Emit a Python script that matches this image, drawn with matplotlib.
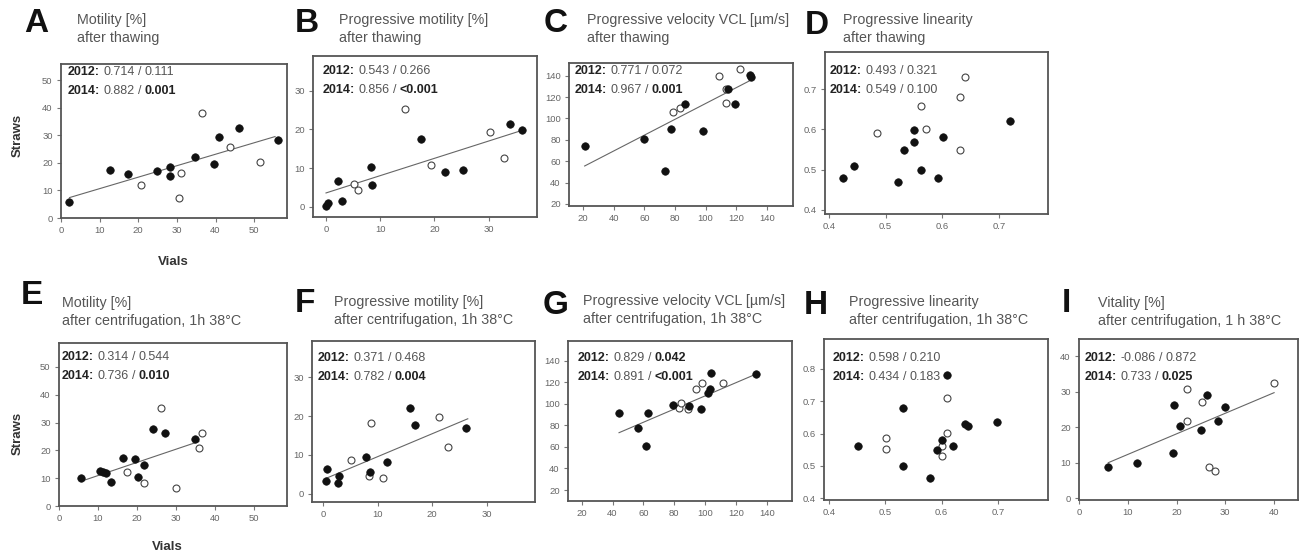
import matplotlib
matplotlib.use("Agg")
import matplotlib.pyplot as plt

plt.rcParams["font.family"] = ["Liberation Sans", "DejaVu Sans"]

W, H = 1304, 556

# ------------------------------------------------------------------
# Data (x = vials, y = straws)
# filled = 2014, open = 2012
# ------------------------------------------------------------------
A_FILLED_X = [2.2, 12.7, 17.4, 24.8, 28.2, 28.1, 34.6, 39.6, 40.9, 46.2, 56.2]
A_FILLED_Y = [5.7, 17.3, 16.1, 17.1, 18.6, 15.3, 22.2, 19.4, 29.2, 32.6, 28.3]
A_OPEN_X = [20.7, 31.1, 30.6, 36.6, 43.8, 51.6]
A_OPEN_Y = [12.0, 16.4, 7.4, 38.2, 25.6, 20.4]
A_FIT_X = [2.2, 55.4]
A_FIT_Y = [7.4, 29.5]

B_FILLED_X = [0.0, 0.4, 2.3, 3.0, 8.3, 8.5, 17.5, 22.0, 25.3, 33.9, 36.2]
B_FILLED_Y = [0.3, 0.9, 6.6, 1.5, 10.3, 5.6, 17.6, 8.9, 9.4, 21.5, 19.8]
B_OPEN_X = [5.1, 5.9, 14.6, 19.4, 30.3, 32.9]
B_OPEN_Y = [5.8, 4.3, 25.2, 10.7, 19.2, 12.6]
B_FIT_X = [0.0, 36.3]
B_FIT_Y = [3.6, 19.8]

C_FILLED_X = [21.1, 60.0, 77.2, 73.3, 86.3, 98.3, 119.3, 114.3, 129.1, 129.8]
C_FILLED_Y = [74.5, 80.5, 90.1, 50.8, 113.8, 87.9, 113.5, 127.2, 140.6, 138.4]
C_OPEN_X = [78.9, 83.5, 108.5, 113.3, 113.3, 122.6]
C_OPEN_Y = [106.0, 110.1, 140.0, 114.8, 127.8, 145.9]
C_FIT_X = [21.1, 129.8]
C_FIT_Y = [55.5, 136.0]

D_FILLED_X = [0.424, 0.444, 0.522, 0.533, 0.551, 0.551, 0.562, 0.592, 0.601, 0.719]
D_FILLED_Y = [0.480, 0.509, 0.470, 0.549, 0.599, 0.569, 0.500, 0.480, 0.580, 0.620]
D_OPEN_X = [0.484, 0.562, 0.572, 0.631, 0.631, 0.640]
D_OPEN_Y = [0.590, 0.659, 0.600, 0.549, 0.681, 0.730]

E_FILLED_X = [5.7, 10.4, 11.3, 12.0, 13.4, 16.3, 19.4, 20.3, 21.9, 24.1, 27.3, 35.0]
E_FILLED_Y = [10.1, 12.7, 12.1, 11.9, 8.5, 17.3, 16.9, 10.6, 14.8, 27.6, 26.2, 24.2]
E_OPEN_X = [17.4, 21.9, 26.1, 29.9, 35.8, 36.7]
E_OPEN_Y = [12.1, 8.3, 35.2, 6.6, 20.9, 26.2]
E_FIT_X = [5.7, 35.9]
E_FIT_Y = [8.9, 23.2]

F_FILLED_X = [0.7, 0.6, 3.0, 2.8, 7.8, 8.7, 11.7, 16.0, 16.8, 26.2]
F_FILLED_Y = [6.3, 3.2, 4.6, 2.7, 9.6, 5.6, 8.1, 22.1, 17.6, 16.9]
F_OPEN_X = [5.1, 8.8, 8.5, 10.9, 21.3, 22.9]
F_OPEN_Y = [8.7, 18.1, 4.5, 4.2, 19.7, 12.1]
F_FIT_X = [0.6, 26.5]
F_FIT_Y = [4.0, 19.3]

G_FILLED_X = [44.2, 56.5, 61.7, 63.2, 79.4, 89.5, 97.2, 102.1, 103.2, 103.7, 133.0]
G_FILLED_Y = [91.7, 77.8, 61.1, 91.1, 98.9, 98.0, 95.2, 109.7, 113.5, 128.3, 127.7]
G_OPEN_X = [83.3, 84.2, 88.8, 94.1, 98.2, 111.4]
G_OPEN_Y = [95.8, 101.0, 95.0, 113.5, 119.0, 119.0]
G_FIT_X = [44.2, 133.1]
G_FIT_Y = [73.2, 127.6]

H_FILLED_X = [0.452, 0.531, 0.531, 0.580, 0.591, 0.600, 0.610, 0.620, 0.641, 0.646, 0.698]
H_FILLED_Y = [0.561, 0.680, 0.501, 0.462, 0.550, 0.581, 0.780, 0.563, 0.631, 0.622, 0.636]
H_OPEN_X = [0.501, 0.501, 0.600, 0.600, 0.609, 0.610]
H_OPEN_Y = [0.586, 0.551, 0.561, 0.532, 0.710, 0.603]

I_FILLED_X = [6.0, 11.8, 19.3, 19.4, 20.8, 25.1, 26.3, 28.6, 29.9]
I_FILLED_Y = [8.8, 10.0, 12.6, 26.3, 20.3, 19.2, 29.0, 21.8, 25.6]
I_OPEN_X = [22.1, 22.1, 25.3, 26.7, 27.9, 39.9]
I_OPEN_Y = [30.6, 21.8, 27.0, 8.8, 7.6, 32.5]
I_FIT_X = [6.0, 40.0]
I_FIT_Y = [10.0, 29.7]

LETTERS = ["A", "B", "C", "D", "E", "F", "G", "H", "I"]
TITLES = [
    ("Motility [%]", "after thawing"),
    ("Progressive motility [%]", "after thawing"),
    ("Progressive velocity VCL [µm/s]", "after thawing"),
    ("Progressive linearity", "after thawing"),
    ("Motility [%]", "after centrifugation, 1h 38°C"),
    ("Progressive motility [%]", "after centrifugation, 1h 38°C"),
    ("Progressive velocity VCL [µm/s]", "after centrifugation, 1h 38°C"),
    ("Progressive linearity", "after centrifugation, 1h 38°C"),
    ("Vitality [%]", "after centrifugation, 1 h 38°C"),
]
# (r, p, p significant) for 2012 and 2014
STATS_2012 = [("0.714", "0.111", False), ("0.543", "0.266", False),
              ("0.771", "0.072", False), ("0.493", "0.321", False),
              ("0.314", "0.544", False), ("0.371", "0.468", False),
              ("0.829", "0.042", True), ("0.598", "0.210", False),
              ("-0.086", "0.872", False)]
STATS_2014 = [("0.882", "0.001", True), ("0.856", "<0.001", True),
              ("0.967", "0.001", True), ("0.549", "0.100", False),
              ("0.736", "0.010", True), ("0.782", "0.004", True),
              ("0.891", "<0.001", True), ("0.434", "0.183", False),
              ("0.733", "0.025", True)]

TICKS_0_50 = [0, 10, 20, 30, 40, 50]
TICKS_0_30 = [0, 10, 20, 30]
TICKS_VCL = [20, 40, 60, 80, 100, 120, 140]
TICKS_LIN = [0.4, 0.5, 0.6, 0.7]
TICKS_LIN8 = [0.4, 0.5, 0.6, 0.7, 0.8]
TICKS_0_40 = [0, 10, 20, 30, 40]

panels = [
    (A_FILLED_X, A_FILLED_Y, A_OPEN_X, A_OPEN_Y, A_FIT_X, A_FIT_Y),
    (B_FILLED_X, B_FILLED_Y, B_OPEN_X, B_OPEN_Y, B_FIT_X, B_FIT_Y),
    (C_FILLED_X, C_FILLED_Y, C_OPEN_X, C_OPEN_Y, C_FIT_X, C_FIT_Y),
    (D_FILLED_X, D_FILLED_Y, D_OPEN_X, D_OPEN_Y, None, None),
    (E_FILLED_X, E_FILLED_Y, E_OPEN_X, E_OPEN_Y, E_FIT_X, E_FIT_Y),
    (F_FILLED_X, F_FILLED_Y, F_OPEN_X, F_OPEN_Y, F_FIT_X, F_FIT_Y),
    (G_FILLED_X, G_FILLED_Y, G_OPEN_X, G_OPEN_Y, G_FIT_X, G_FIT_Y),
    (H_FILLED_X, H_FILLED_Y, H_OPEN_X, H_OPEN_Y, None, None),
    (I_FILLED_X, I_FILLED_Y, I_OPEN_X, I_OPEN_Y, I_FIT_X, I_FIT_Y),
]

# ------------------------------------------------------------------
# Layout (pixels): box left, right, top, bottom / limits / ticks
# ------------------------------------------------------------------
boxes = [(61, 287, 64, 218), (313, 537, 56, 217), (569, 793, 63, 206),
         (825, 1048, 52, 214), (59, 287, 343, 506), (312, 535, 341, 502),
         (568, 792, 341, 501), (824, 1048, 339, 500), (1079, 1298, 339, 500)]
limits = [((0, 58.5), (0, 55.8)), ((-2.4, 38.9), (-2.6, 38.9)),
          ((10.9, 157), (18.1, 151.8)), ((0.393, 0.787), (0.39, 0.792)),
          ((0, 58.5), (0, 58.6)), ((-2.0, 38.8), (-2.1, 39.3)),
          ((11.1, 156.4), (9.8, 158.3)), ((0.391, 0.789), (0.395, 0.892)),
          ((0, 44.9), (-0.5, 44.8))]
xticks = [TICKS_0_50, TICKS_0_30, TICKS_VCL, TICKS_LIN,
          TICKS_0_50, TICKS_0_30, TICKS_VCL, TICKS_LIN, TICKS_0_40]
yticks = [TICKS_0_50, TICKS_0_30, TICKS_VCL, TICKS_LIN,
          TICKS_0_50, TICKS_0_30, TICKS_VCL, TICKS_LIN8, TICKS_0_40]
letter_pos = [(36, 24), (307, 24), (556, 23), (817, 25),
              (32, 295), (305, 303), (556, 306), (816, 305), (1066, 303)]
title_pos = [(77, 20), (339, 20), (587, 20), (843, 20),
             (62, 303), (334, 302), (583, 301), (849, 302), (1098, 303)]
stat_pos = [(68, 71), (323, 70), (575, 70), (830, 70),
            (62, 356), (318, 357), (578, 357), (833, 357), (1085, 357)]

DARK = "#222222"
GRAY = "#555555"
STAT_FS = 9


def fig_xy(px, py):
    return px / W, 1 - py / H


fig = plt.figure(figsize=(W / 100, H / 100), dpi=100)
fig.patch.set_facecolor("white")
renderer = fig.canvas.get_renderer()


def stat_line(px, py, year, r, p, p_bold):
    parts = [(year + ":", True, DARK), (r, False, GRAY), ("/", False, GRAY),
             (p, p_bold, DARK if p_bold else GRAY)]
    x = px
    for s, bold, col in parts:
        t = fig.text(x / W, 1 - py / H, s, fontsize=STAT_FS, color=col,
                     fontweight="bold" if bold else "normal",
                     ha="left", va="baseline")
        bb = t.get_window_extent(renderer)
        x = bb.x1 + 3.2


for i, (fx_, fy_, ox, oy, lx, ly) in enumerate(panels):
    l, r, t, b = boxes[i]
    ax = fig.add_axes([l / W, 1 - b / H, (r - l) / W, (b - t) / H])
    if lx is not None:
        ax.plot(lx, ly, color="#666666", lw=0.8, zorder=1)
    ax.plot(ox, oy, "o", ms=5.0, mfc="white", mec="#444444", mew=0.8,
            ls="none", zorder=2)
    ax.plot(fx_, fy_, "o", ms=5.4, mfc="#111111", mec="#111111", mew=0.5,
            ls="none", zorder=3)
    ax.set_xlim(*limits[i][0])
    ax.set_ylim(*limits[i][1])
    ax.set_xticks(xticks[i])
    ax.set_yticks(yticks[i])
    ax.set_xticklabels([f"{v:g}" for v in xticks[i]])
    ax.set_yticklabels([f"{v:g}" for v in yticks[i]])
    ax.tick_params(direction="out", length=3, width=0.8, colors="#777777",
                   labelsize=6.8, labelcolor="#666666", pad=3)
    for sp in ax.spines.values():
        sp.set_color("#555555")
        sp.set_linewidth(1.3)

    lx_, ly_ = fig_xy(*letter_pos[i])
    fig.text(lx_, ly_, LETTERS[i], fontsize=24, fontweight="bold",
             color="#111111", ha="center", va="center")
    px, py = title_pos[i]
    for k, line in enumerate(TITLES[i]):
        tx, ty = fig_xy(px, py + 18 * k)
        fig.text(tx, ty, line, fontsize=10.3, color="#555555",
                 ha="left", va="center")

for i in range(9):
    px, py = stat_pos[i]
    r12, p12, b12 = STATS_2012[i]
    r14, p14, b14 = STATS_2014[i]
    stat_line(px, py + 4, "2012", r12, p12, b12)
    stat_line(px, py + 23, "2014", r14, p14, b14)

# axis titles for the first column
for (sx, sy), (vx, vy) in [((18, 135), (173, 262)), ((18, 433), (167, 547))]:
    x, y = fig_xy(sx, sy)
    fig.text(x, y, "Straws", rotation=90, fontsize=9.5, fontweight="bold",
             color="#333333", ha="center", va="center")
    x, y = fig_xy(vx, vy)
    fig.text(x, y, "Vials", fontsize=9.5, fontweight="bold",
             color="#333333", ha="center", va="center")

fig.savefig("out.png", dpi=100, facecolor="white")
